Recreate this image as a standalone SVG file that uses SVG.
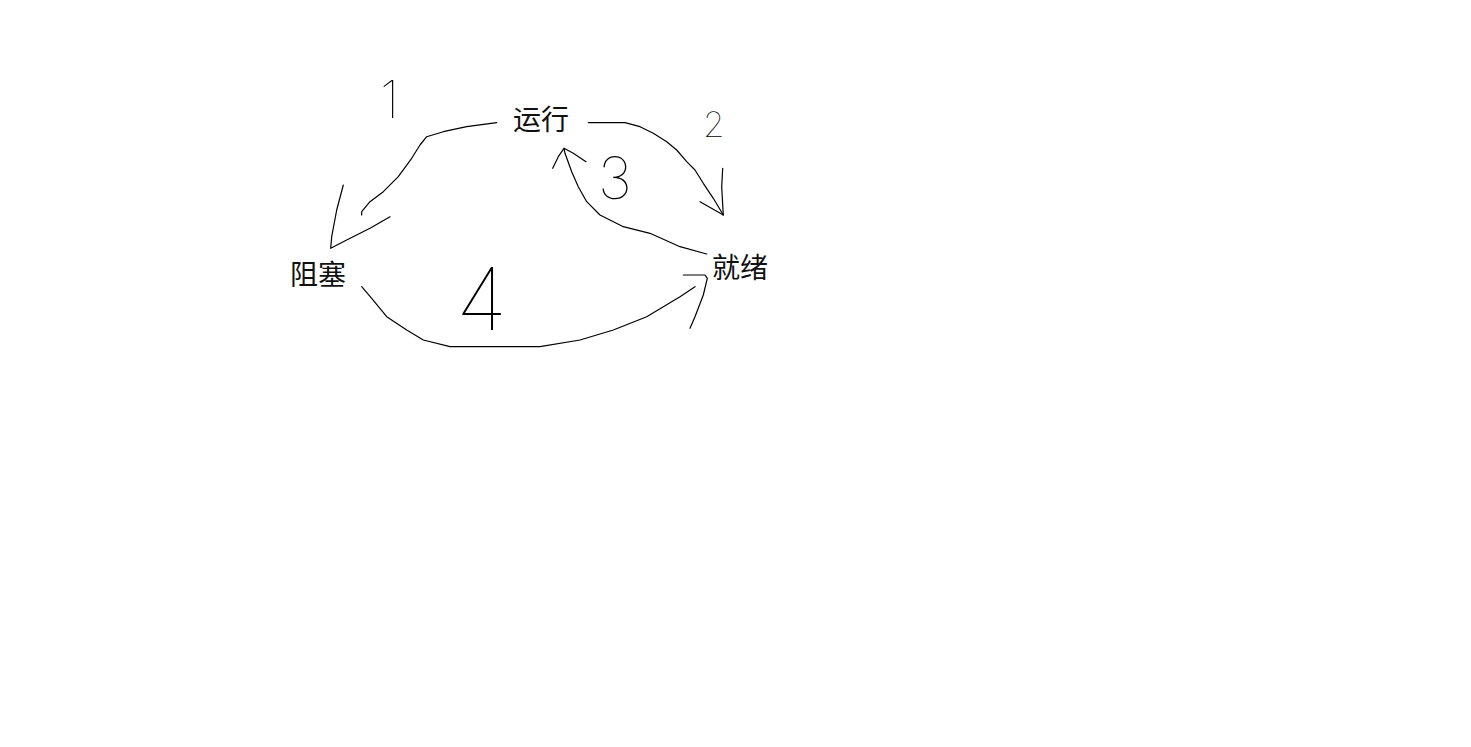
<svg xmlns="http://www.w3.org/2000/svg" width="1471" height="747" viewBox="0 0 1471 747">
<style>
.node{font-family:"Noto Sans CJK SC","Noto Sans CJK JP",sans-serif;font-size:28px;fill:#111}
.edge{fill:none;stroke:#000;stroke-width:1.2;stroke-linejoin:round;stroke-linecap:round}
.num{font-family:Inter,"DejaVu Sans",sans-serif;font-weight:100;fill:#000}
</style>
<rect width="1471" height="747" fill="#fff"/>
<g id="node-running"><text class="node" x="513" y="130">运行</text></g>
<g id="node-blocked"><text class="node" x="290" y="285">阻塞</text></g>
<g id="node-ready"><text class="node" x="712" y="278">就绪</text></g>
<g id="connectors">
  <g id="edge-1">
    <path class="edge" d="M496.7,122.7 L466.7,126.7 L443.3,131.7 L426.7,136.7 L420,145 L411.7,158.3 L398.3,176.7 L383.3,191.7 L370,201.7 L361.7,211.7 L361.7,215"/>
    <path class="edge" d="M343.3,185 L336.7,210 L331.7,236.7 L330.7,248.3 L346.7,240 L370,228.3 L390,216.7"/>
    <text class="num" x="380" y="118" font-size="52">1</text>
  </g>
  <g id="edge-2">
    <path class="edge" d="M588.3,122.7 L625,122.7 L640,126.7 L653.3,133.3 L666.7,141.7 L676.7,150 L686.7,161.7 L695,170 L703.3,183.3 L713.3,198.3 L723.3,215"/>
    <path class="edge" d="M700,201.7 L723.3,215 L721.7,186.7 L722.7,168.3"/>
    <text class="num" x="703" y="137" font-size="35">2</text>
  </g>
  <g id="edge-3">
    <path class="edge" d="M706.7,254 L680,246.7 L650,233.3 L623.3,226.7 L600,215 L586.7,201.7 L578.3,186.7 L571.7,171.7 L565,153.3 L564,148.3"/>
    <path class="edge" d="M552.7,168.3 L558.3,156.7 L564,148.3 L573.3,153.3 L586,161.7"/>
    <text class="num" x="598" y="199" font-size="58">3</text>
  </g>
  <g id="edge-4">
    <path class="edge" d="M361.7,286.7 L371.7,298.3 L386.7,316.7 L406.7,330 L423.3,340 L450,346.7 L540,346.7 L580,340 L613.3,330 L646.7,316.7 L680,296.7 L695,286.7"/>
    <path class="edge" d="M683.3,275 L705,275 L707.3,278.3 L703.3,295 L695,316.7 L690,328.3"/>
    <text class="num" x="456" y="330" font-size="86">4</text>
  </g>
</g>
</svg>
